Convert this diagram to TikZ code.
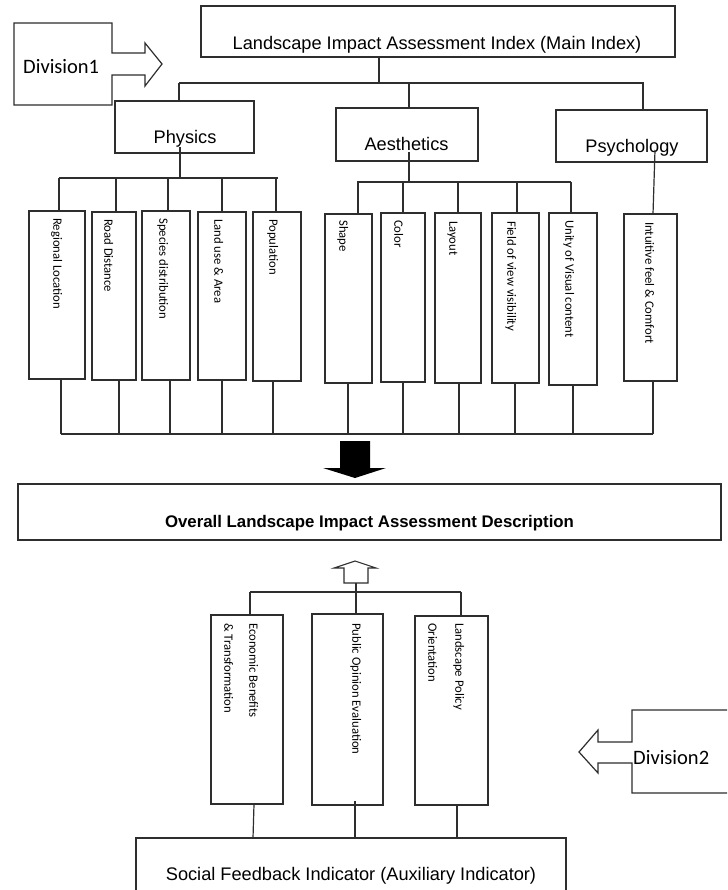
\documentclass[tikz,border=0pt]{standalone}
\usepackage{fontspec}
\setmainfont{Liberation Sans}
\newfontfamily\carl{Carlito}
\newcommand\bx[5]{\node[box, minimum width={#4-#2}, minimum height={#5-#3}] (#1) at ({(#2+#4)/2},{(#3+#5)/2}) {};}
\begin{document}
\begin{tikzpicture}[x=1pt,y=-1pt,
  lc/.style={draw=black!82, line width=1.2pt, line join=miter},
  box/.style={lc, rectangle, inner sep=0pt, outer sep=0pt},
  conn/.style={draw=black!82, line width=1.2pt},
  title/.style={font=\fontsize{18.2}{22}\selectfont, inner sep=0pt, anchor=base},
  leaftext/.style={rotate=-90, anchor=mid west, inner sep=0pt, font=\carl\fontsize{12.7}{15}\selectfont},
  divtext/.style={font=\carl\fontsize{20.5}{24}\selectfont, inner sep=0pt, anchor=base west}]
\clip (0,0) rectangle (727,890);
\fill[white] (0,0) rectangle (727,890);

% ---- top level
\bx{main}{201}{6}{675}{57}
\node[title] (mainT) at (437,50) {Landscape Impact Assessment Index (Main Index)};

\draw[lc] (14,23) -- (112,23) -- (112,53) -- (145,53) -- (145,43) -- (162,64) -- (145,86) -- (145,75) -- (112,75) -- (112,105) -- (14,105) -- cycle;
\node[divtext] (div1T) at (23,74) {Division1};

\bx{phys}{115}{101}{254}{153}
\node[title] (physT) at (185,144) {Physics};
\bx{aes}{336}{108}{478}{161}
\node[title] (aesT) at (406.5,151) {Aesthetics};
\bx{psy}{556}{110}{707}{162}
\node[title] (psyT) at (632,153) {Psychology};

\draw[conn] (379,0 |- main.south) -- (379,83);
\draw[conn] (179,83) -- (644,83);
\draw[conn] (179,83) -- (179,0 |- phys.north);
\draw[conn] (409,83) -- (409,0 |- aes.north);
\draw[conn] (643,83) -- (643,0 |- psy.north);

% ---- leaves
\bx{reg}{29}{211}{85}{379}
\bx{road}{92}{212}{136}{380}
\bx{spec}{142}{211}{190}{380}
\bx{land}{198}{212}{246}{380}
\bx{pop}{253}{212}{301}{381}
\bx{shp}{325}{214}{372}{383}
\bx{col}{381}{213}{425}{382}
\bx{lay}{435}{213}{481}{383}
\bx{fov}{492}{213}{539}{383}
\bx{uni}{549}{213}{597}{385}
\bx{intu}{624}{214}{677}{381}

\node[leaftext] (regT) at (56,218) {Regional Location};
\node[leaftext] (roadT) at (107,219) {Road Distance};
\node[leaftext] (specT) at (162,218) {Species distribution};
\node[leaftext] (landT) at (217,219) {Land use \& Area};
\node[leaftext] (popT) at (272,219) {Population};
\node[leaftext] (shpT) at (342,220) {Shape};
\node[leaftext] (colT) at (397,220) {Color};
\node[leaftext] (layT) at (452,221) {Layout};
\node[leaftext] (fovT) at (510,221) {Field of view visibility};
\node[leaftext] (uniT) at (568,220) {Unity of Visual content};
\node[leaftext] (intuT) at (648,222) {Intuitive feel \& Comfort};

\draw[conn] (180,147) -- (180,178);
\draw[conn] (59,178) -- (278,178);
\foreach \x/\n in {59/reg,116/road,168/spec,222/land,276/pop}
  \draw[conn] (\x,178) -- (\x,0 |- \n.north);

\draw[conn] (409,152) -- (409,182);
\draw[conn] (357,182) -- (571,182);
\foreach \x/\n in {358/shp,403/col,458/lay,517/fov,571/uni}
  \draw[conn] (\x,182) -- (\x,0 |- \n.north);

\draw[conn] (655,150) -- (653,0 |- intu.north);

\foreach \x/\n in {61/reg,119/road,170/spec,222/land,273/pop,348/shp,403/col,459/lay,515/fov,573/uni,653/intu}
  \draw[conn] (\x,0 |- \n.south) -- (\x,434);
\draw[conn] (61,434) -- (653,434);

% ---- black arrow
\fill[black] (340,441) -- (370,441) -- (370,468) -- (386,468) -- (355,478) -- (323,468) -- (340,468) -- cycle;

% ---- overall
\bx{ovr}{18}{484}{721}{540}
\node[title, font=\bfseries\fontsize{16.8}{20}\selectfont] (ovrT) at (369.5,527) {Overall Landscape Impact Assessment Description};

% ---- hollow arrow
\draw[lc, line width=1.1pt] (344,583) -- (344,568) -- (334,568) -- (355,561) -- (376,568) -- (368,568) -- (368,583) -- cycle;

% ---- auxiliary
\bx{eco}{211}{615}{283}{804}
\bx{pub}{312}{614}{383}{805}
\bx{pol}{415}{616}{488}{805}
\node[leaftext] (ecoT1) at (252,623) {Economic Benefits};
\node[leaftext] (ecoT2) at (227,623) {\& Transformation};
\node[leaftext] (pubT) at (355,623) {Public Opinion Evaluation};
\node[leaftext] (polT1) at (458,623) {Landscape Policy};
\node[leaftext] (polT2) at (431,623) {Orientation};

\draw[conn] (356,583) -- (356,592);
\draw[conn] (250,592) -- (461,592);
\draw[conn] (250,592) -- (250,0 |- eco.north);
\draw[conn] (356,592) -- (356,0 |- pub.north);
\draw[conn] (461,592) -- (461,0 |- pol.north);

\bx{soc}{136}{838}{566}{905}
\node[title] (socT) at (351,880) {Social Feedback Indicator (Auxiliary Indicator)};

\draw[conn] (254,0 |- eco.south) -- (253,0 |- soc.north);
\draw[conn] (355,801) -- (355,0 |- soc.north);
\draw[conn] (457,0 |- pol.south) -- (457,0 |- soc.north);

\draw[lc] (740,710) -- (632,710) -- (632,742) -- (598,742) -- (598,730) -- (579,752) -- (598,773) -- (598,763) -- (632,763) -- (632,793) -- (740,793);
\node[divtext] (div2T) at (633,764) {Division2};
\end{tikzpicture}
\end{document}
